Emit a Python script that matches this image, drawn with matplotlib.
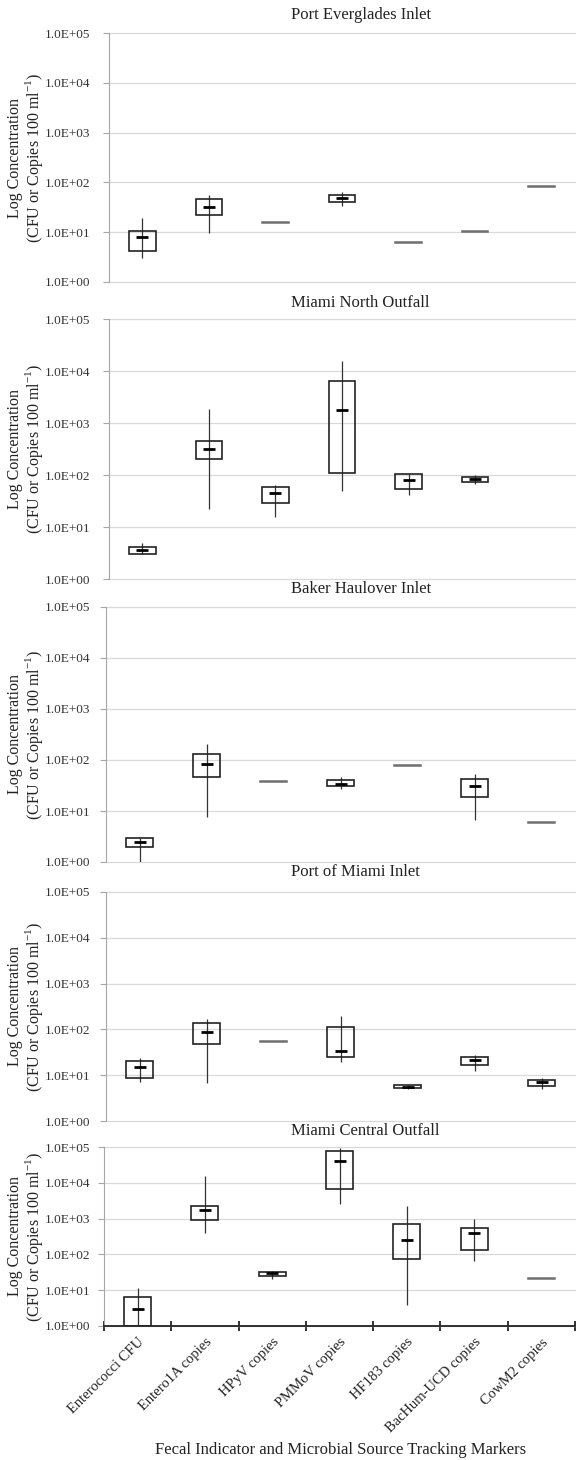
import matplotlib.pyplot as plt
import matplotlib.ticker as mticker
import numpy as np

plt.rcParams['font.family'] = ['Liberation Serif', 'DejaVu Serif']
plt.rcParams['mathtext.fontset'] = 'custom'
plt.rcParams['mathtext.rm'] = 'Liberation Serif'

markers = ['Enterococci CFU', 'Entero1A copies', 'HPyV copies', 'PMMoV copies',
           'HF183 copies', 'BacHum-UCD copies', 'CowM2 copies']
sites = ['Port Everglades Inlet', 'Miami North Outfall', 'Baker Haulover Inlet',
         'Port of Miami Inlet', 'Miami Central Outfall']

nan = np.nan
# low whisker, box bottom, median, box top, high whisker (per marker)
pe_lo = [3.1, 9.6, 15.5, 34.1, 6.0, 10.1, 80.0]
pe_q1 = [4.1, 21.8, 15.5, 40.4, 6.0, 10.1, 80.0]
pe_md = [8.1, 32.6, 15.8, 48.6, 6.2, 10.4, 82.0]
pe_q3 = [10.7, 45.6, 16.0, 56.7, 6.3, 10.6, 83.0]
pe_hi = [19.3, 56.7, 16.0, 63.0, 6.3, 10.6, 83.0]

mn_lo = [3.0, 22.2, 15.3, 48.5, 41.9, 67.1, nan]
mn_q1 = [3.0, 203, 29.0, 109, 54.6, 72.3, nan]
mn_md = [3.6, 312, 44.4, 1804, 81.0, 83.8, nan]
mn_q3 = [4.1, 444, 58.0, 6422, 106, 91.5, nan]
mn_hi = [4.9, 1888, 65.0, 15350, 106, 98.6, nan]

bh_lo = [1.0, 7.5, 36.5, 27.2, 77.5, 6.7, 5.9]
bh_q1 = [2.0, 47.3, 36.5, 30.6, 77.5, 18.9, 5.9]
bh_md = [2.5, 83.8, 37.2, 34.0, 78.9, 31.6, 6.1]
bh_q3 = [3.0, 133, 38.0, 40.7, 80.5, 43.3, 6.2]
bh_hi = [3.0, 206, 38.0, 47.4, 80.5, 53.4, 6.2]

pm_lo = [7.2, 6.9, 52.0, 19.5, 4.9, 12.4, 5.1]
pm_q1 = [8.5, 47.5, 52.0, 25.5, 5.2, 16.8, 5.9]
pm_md = [14.9, 89.7, 53.4, 34.0, 5.6, 22.0, 7.0]
pm_q3 = [20.9, 141, 55.0, 115, 6.0, 25.5, 7.9]
pm_hi = [23.9, 172, 55.0, 197, 6.2, 28.3, 8.6]

mc_lo = [1.0, 400, 20.0, 2520, 3.9, 65.0, 20.8]
mc_q1 = [1.0, 942, 24.8, 6600, 72.3, 134, 20.8]
mc_md = [3.0, 1790, 30.7, 41600, 250, 400, 21.3]
mc_q3 = [6.4, 2314, 32.7, 79000, 713, 540, 21.8]
mc_hi = [11.2, 15860, 33.5, 93800, 2217, 1000, 21.8]

panels = [
    (pe_lo, pe_q1, pe_md, pe_q3, pe_hi),
    (mn_lo, mn_q1, mn_md, mn_q3, mn_hi),
    (bh_lo, bh_q1, bh_md, bh_q3, bh_hi),
    (pm_lo, pm_q1, pm_md, pm_q3, pm_hi),
    (mc_lo, mc_q1, mc_md, mc_q3, mc_hi),
]

W, H = 576, 1460
# left, top, bottom of each axes and title centre line, in pixels
boxes_px = [(109, 33, 282), (109, 319, 579), (106, 607, 862),
            (106, 892, 1121), (104, 1147, 1326)]
title_y = [15, 303, 589, 872, 1131]

fig = plt.figure(figsize=(W / 100, H / 100), dpi=100)

fmt = mticker.FuncFormatter(lambda v, p: '1.0E+%02d' % round(np.log10(v)))
x = np.arange(len(markers))

for i, (site, data) in enumerate(zip(sites, panels)):
    l, t, b = boxes_px[i]
    ax = fig.add_axes([l / W, 1 - b / H, (W - 1 - l) / W, (b - t) / H])
    lo, q1, md, q3, hi = [np.array(d, dtype=float) for d in data]
    ok = ~np.isnan(md)
    flat = ok & (q3 / q1 < 1.15)
    full = ok & ~flat

    ax.vlines(x[full], lo[full], hi[full], color='#333333', lw=0.9, zorder=2)
    ax.bar(x[full], q3[full] - q1[full], bottom=q1[full], width=0.4,
           facecolor='none', edgecolor='#222222', lw=1.2, zorder=3)
    ax.plot(x[full], md[full], ls='none', marker='_', ms=8,
            mew=2, color='black', zorder=4)
    # boxes whose spread is too small to open up show as a flat grey dash
    ax.bar(x[flat], q3[flat] - q1[flat], bottom=q1[flat], width=0.4,
           facecolor='#707070', edgecolor='#707070', lw=1.1, zorder=3)

    ax.set_yscale('log')
    ax.set_ylim(1, 1e5)
    ax.set_xlim(-0.5, 6.5)
    ax.yaxis.set_major_locator(mticker.FixedLocator(10.0 ** np.arange(6)))
    ax.yaxis.set_minor_locator(mticker.NullLocator())
    ax.yaxis.set_major_formatter(fmt)
    ax.grid(axis='y', color='#d9d9d9', lw=0.9)
    for gl in ax.get_ygridlines():
        gl.set_clip_on(False)
    ax.set_axisbelow(True)
    for s in ['top', 'right']:
        ax.spines[s].set_visible(False)
    ax.spines['left'].set_color('#a6a6a6')
    ax.spines['left'].set_linewidth(0.8)
    ax.tick_params(axis='y', colors='#a6a6a6', length=4, width=0.8,
                   labelcolor='#333333', labelsize=9.5,
                   pad=(l - 92 - 4) * 0.72)
    fig.text(291 / W, 1 - title_y[i] / H, site, ha='left', va='center',
             fontsize=12, color='#222222')
    ax.set_ylabel('Log Concentration\n(CFU or Copies 100 ml$^{\\mathregular{-1}}$)',
                  fontsize=11.5, color='#222222', linespacing=1.0)
    ax.yaxis.set_label_coords((45 - l) / (W - l), 0.5)

    if i == len(sites) - 1:
        ax.spines['bottom'].set_color('#222222')
        ax.spines['bottom'].set_linewidth(1.3)
        ax.set_xticks(x)
        ax.set_xticklabels(markers, rotation=45, ha='right',
                           rotation_mode='anchor', fontsize=10.5,
                           color='#222222')
        ax.tick_params(axis='x', which='major', length=0, pad=7)
        ax.set_xticks(np.arange(-0.5, 7.0, 1.0), minor=True)
        ax.tick_params(axis='x', which='minor', direction='inout',
                       length=7, width=1.3, color='#222222')
    else:
        ax.spines['bottom'].set_visible(False)
        ax.set_xticks([])

fig.text(341 / W, 1 - 1450 / H,
         'Fecal Indicator and Microbial Source Tracking Markers',
         ha='center', va='center', fontsize=12, color='#222222')

fig.savefig('out.png', dpi=100)
